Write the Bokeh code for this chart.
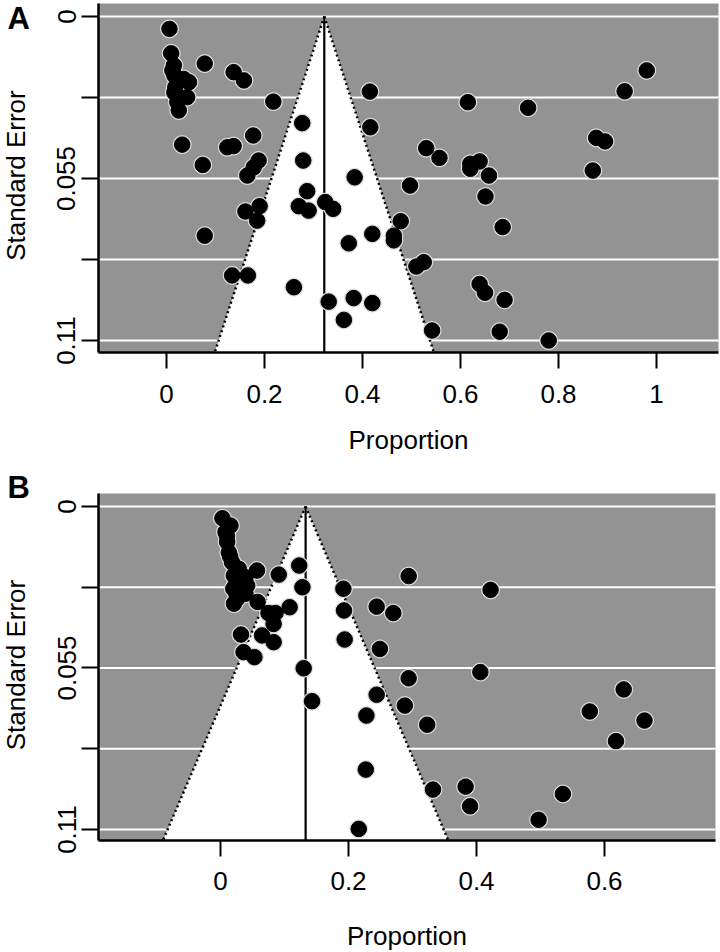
import math
from bokeh.plotting import figure
from bokeh.models import Range1d, FixedTicker, Label, CustomJSTickFormatter
from bokeh.layouts import column
from bokeh.embed import file_html
from bokeh.resources import INLINE

# ---------------- data ----------------
# Panel A: proportion and standard error of each study
a_prop = [0.006, 0.0095, 0.078, 0.137, 0.158, 0.218, 0.277, 0.032, 0.177, 0.124,
          0.137, 0.279, 0.188, 0.178, 0.165, 0.074, 0.384, 0.287, 0.190, 0.161,
          0.185, 0.270, 0.290, 0.324, 0.340, 0.078, 0.372, 0.134, 0.166, 0.260,
          0.331, 0.382, 0.362, 0.415, 0.416, 0.420, 0.420, 0.615, 0.738, 0.935,
          0.980, 0.530, 0.557, 0.620, 0.639, 0.620, 0.658, 0.651, 0.877, 0.895,
          0.870, 0.497, 0.686, 0.478, 0.464, 0.464, 0.510, 0.525, 0.639, 0.650,
          0.690, 0.542, 0.680, 0.780, 0.015, 0.012, 0.016, 0.035, 0.046, 0.018,
          0.016, 0.042, 0.022, 0.025]
a_se = [0.0042, 0.0125, 0.0160, 0.0189, 0.0217, 0.0289, 0.0362, 0.0435, 0.0404, 0.0444,
        0.0440, 0.0489, 0.0489, 0.0512, 0.0540, 0.0504, 0.0546, 0.0593, 0.0644, 0.0662,
        0.0693, 0.0644, 0.0659, 0.0630, 0.0653, 0.0744, 0.0770, 0.0879, 0.0879, 0.0919,
        0.0968, 0.0956, 0.1030, 0.0255, 0.0376, 0.0738, 0.0973, 0.0291, 0.0310, 0.0254,
        0.0183, 0.0447, 0.0480, 0.0500, 0.0492, 0.0517, 0.0540, 0.0611, 0.0412, 0.0424,
        0.0523, 0.0574, 0.0715, 0.0695, 0.0744, 0.0760, 0.0849, 0.0834, 0.0908, 0.0938,
        0.0962, 0.1066, 0.1070, 0.1100, 0.0166, 0.0183, 0.0200, 0.0212, 0.0223, 0.0240,
        0.0258, 0.0274, 0.0291, 0.0319]
a_est = 0.322

# Panel B
b_prop = [0.003, 0.0156, 0.0078, 0.0104, 0.013, 0.018, 0.0286, 0.057, 0.0208, 0.039,
          0.0234, 0.0417, 0.0261, 0.039, 0.058, 0.091, 0.123, 0.128, 0.108, 0.075,
          0.086, 0.083, 0.032, 0.065, 0.083, 0.036, 0.053, 0.130, 0.143, 0.192,
          0.193, 0.194, 0.216, 0.294, 0.422, 0.244, 0.270, 0.249, 0.406, 0.294,
          0.244, 0.288, 0.228, 0.323, 0.630, 0.577, 0.6625, 0.618, 0.227, 0.332,
          0.383, 0.390, 0.535, 0.497, 0.010, 0.020, 0.030, 0.015, 0.025, 0.021]
b_se = [0.0040, 0.0065, 0.0087, 0.0121, 0.0156, 0.0190, 0.0212, 0.0218, 0.0235, 0.0241,
        0.0269, 0.0269, 0.0314, 0.0297, 0.0325, 0.0232, 0.0201, 0.0275, 0.0343, 0.0363,
        0.0363, 0.0400, 0.0436, 0.0439, 0.0462, 0.0496, 0.0513, 0.0551, 0.0663, 0.0280,
        0.0354, 0.0453, 0.1098, 0.0237, 0.0284, 0.0341, 0.0363, 0.0485, 0.0564, 0.0585,
        0.0641, 0.0678, 0.0712, 0.0743, 0.0623, 0.0698, 0.0729, 0.0799, 0.0896, 0.0964,
        0.0954, 0.1021, 0.0979, 0.1067, 0.0100, 0.0280, 0.0250, 0.0170, 0.0300, 0.0331]
b_est = 0.133

a_xticks = [0, 0.2, 0.4, 0.6, 0.8, 1]
a_xlabels = ["0", "0.2", "0.4", "0.6", "0.8", "1"]
b_xticks = [0, 0.2, 0.4, 0.6]
b_xlabels = ["0", "0.2", "0.4", "0.6"]
se_ticks = [0, 0.0275, 0.055, 0.0825, 0.11]
se_labels = ["0", "", "0.055", "", "0.11"]

x_title = "Proportion"
y_title = "Standard Error"

# ---------------- styling ----------------
FONT = "Liberation Sans"
BG = "#939393"
FS = "26px"


def fmt(tv, tl):
    return CustomJSTickFormatter(
        args=dict(tvals=tv, tlabs=tl),
        code="const i = tvals.findIndex(t => Math.abs(t - tick) < 1e-9); return i >= 0 ? tlabs[i] : '';")


def panel(props, ses, est, view_x, view_y, box_x, box_y, h, xticks, xlabels,
          letter, letter_y, tick_sd, lab_sd):
    # view_*: full visible range of the canvas; box_*: the grey plotting box
    p = figure(width=720, height=h, x_range=Range1d(*view_x), y_range=Range1d(*view_y),
               output_backend="svg", toolbar_location=None,
               min_border_left=0, min_border_right=0,
               min_border_top=0, min_border_bottom=0)
    p.background_fill_color = "white"
    p.border_fill_color = "white"
    p.outline_line_color = None
    p.xgrid.visible = False
    p.ygrid.visible = False

    gl, gr = box_x
    gt, gb = box_y
    p.quad(left=gl, right=gr, top=gt, bottom=gb, fill_color=BG, line_color=None)
    p.segment(x0=gl, x1=gr, y0=se_ticks, y1=se_ticks, line_color="white", line_width=2)

    se_bot = gb
    p.patch([est, est - 1.96 * se_bot, est + 1.96 * se_bot], [0, se_bot, se_bot],
            fill_color="white", line_color=None)
    p.line([est, est - 1.96 * se_bot], [0, se_bot], line_dash="2 3", line_width=2.5, color="black")
    p.line([est, est + 1.96 * se_bot], [0, se_bot], line_dash="2 3", line_width=2.5, color="black")
    p.line([est, est], [0, se_bot], line_width=2.2, color="black")

    p.scatter(props, ses, size=18, color="#dcdcdc")
    p.scatter(props, ses, size=15.5, color="black")

    xa = p.xaxis[0]
    xa.fixed_location = gb
    xa.bounds = (gl, gr)
    xa.ticker = FixedTicker(ticks=xticks)
    xa.formatter = fmt(xticks, xlabels)
    xa.axis_label = x_title
    xa.axis_label_text_font = FONT
    xa.axis_label_text_font_style = "normal"
    xa.axis_label_text_font_size = FS
    xa.axis_label_text_color = "black"
    xa.axis_label_standoff = lab_sd
    xa.major_label_text_font = FONT
    xa.major_label_text_font_size = FS
    xa.major_label_text_color = "black"
    xa.major_label_standoff = tick_sd
    xa.major_tick_out = 16
    xa.major_tick_in = 0
    xa.minor_tick_out = 0
    xa.minor_tick_in = 0
    xa.axis_line_width = 2.5
    xa.major_tick_line_width = 2
    xa.axis_line_color = "black"
    xa.major_tick_line_color = "black"

    ya = p.yaxis[0]
    ya.fixed_location = gl
    ya.bounds = (min(gt, gb), max(gt, gb))
    ya.ticker = FixedTicker(ticks=se_ticks)
    ya.formatter = fmt(se_ticks, se_labels)
    ya.major_label_orientation = "parallel"
    ya.major_label_text_font = FONT
    ya.major_label_text_font_size = FS
    ya.major_label_text_color = "black"
    ya.major_label_standoff = 6
    ya.major_tick_out = 17
    ya.major_tick_in = 0
    ya.minor_tick_out = 0
    ya.minor_tick_in = 0
    ya.axis_line_width = 2.5
    ya.major_tick_line_width = 2
    ya.axis_line_color = "black"
    ya.major_tick_line_color = "black"

    p.add_layout(Label(x=15, y=0.054, x_units="screen", y_units="data", text=y_title,
                       angle=math.pi / 2, text_align="center", text_baseline="middle",
                       text_font=FONT, text_font_size=FS, text_color="black"))
    p.add_layout(Label(x=7, y=letter_y, x_units="screen", y_units="data", text=letter,
                       text_align="left", text_baseline="middle",
                       text_font=FONT, text_font_size="31px", text_font_style="bold",
                       text_color="black"))
    return p


pa = panel(a_prop, a_se, a_est,
           view_x=(-0.3388, 1.1306), view_y=(0.15413, -0.00543),
           box_x=(-0.1388, 1.1265), box_y=(-0.00441, 0.1141),
           h=470, xticks=a_xticks, xlabels=a_xlabels,
           letter="A", letter_y=0.0006, tick_sd=16, lab_sd=19)
pb = panel(b_prop, b_se, b_est,
           view_x=(-0.34375, 0.78125), view_y=(0.15189, -0.01226),
           box_x=(-0.1906, 0.7734), box_y=(-0.00443, 0.11375),
           h=482, xticks=b_xticks, xlabels=b_xlabels,
           letter="B", letter_y=-0.0066, tick_sd=15, lab_sd=28)

layout = column(pa, pb, spacing=0)
open("out.html", "w").write(file_html(layout, INLINE))
